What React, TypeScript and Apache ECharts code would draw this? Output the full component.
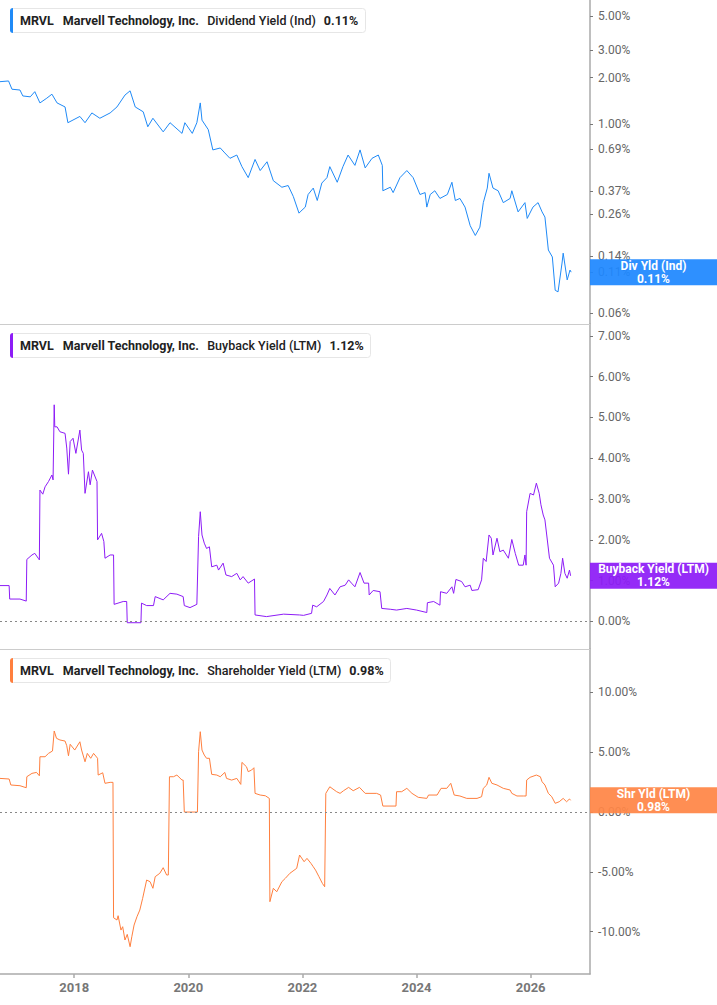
import React, { useEffect, useRef } from "react";
import * as echarts from "echarts";

// ---- Data (decimal year, percent) ----
const dividendYield: [number, number][] = [
  [2016.70, 1.88], [2016.85, 1.90], [2016.91, 1.68], [2017.05, 1.66], [2017.10, 1.52], [2017.23, 1.50],
  [2017.31, 1.62], [2017.40, 1.37], [2017.52, 1.47], [2017.61, 1.56], [2017.70, 1.37], [2017.84, 1.29],
  [2017.89, 1.02], [2018.10, 1.12], [2018.19, 1.02], [2018.31, 1.18], [2018.45, 1.09], [2018.63, 1.18],
  [2018.75, 1.29], [2018.89, 1.54], [2018.98, 1.64], [2019.07, 1.29], [2019.21, 1.20], [2019.29, 0.96],
  [2019.38, 1.09], [2019.56, 0.89], [2019.68, 1.02], [2019.89, 0.87], [2019.94, 1.02], [2020.07, 0.87],
  [2020.15, 1.02], [2020.21, 1.37], [2020.24, 1.06], [2020.35, 0.92], [2020.43, 0.68], [2020.56, 0.70],
  [2020.64, 0.65], [2020.73, 0.60], [2020.85, 0.63], [2020.94, 0.53], [2021.05, 0.45], [2021.17, 0.59],
  [2021.26, 0.50], [2021.38, 0.57], [2021.49, 0.43], [2021.64, 0.39], [2021.75, 0.40], [2021.84, 0.34],
  [2021.94, 0.265], [2021.96, 0.27], [2022.05, 0.29], [2022.10, 0.35], [2022.19, 0.385], [2022.26, 0.32],
  [2022.34, 0.415], [2022.43, 0.45], [2022.48, 0.53], [2022.61, 0.42], [2022.71, 0.53], [2022.80, 0.63],
  [2022.92, 0.54], [2023.01, 0.68], [2023.10, 0.52], [2023.22, 0.60], [2023.33, 0.63], [2023.40, 0.54],
  [2023.41, 0.37], [2023.54, 0.39], [2023.59, 0.36], [2023.71, 0.45], [2023.83, 0.50], [2023.94, 0.45],
  [2024.06, 0.35], [2024.15, 0.36], [2024.18, 0.29], [2024.24, 0.35], [2024.32, 0.37], [2024.41, 0.33],
  [2024.54, 0.35], [2024.62, 0.42], [2024.68, 0.32], [2024.76, 0.33], [2024.85, 0.29], [2024.94, 0.22],
  [2025.03, 0.19], [2025.11, 0.215], [2025.17, 0.31], [2025.24, 0.385], [2025.27, 0.48], [2025.34, 0.385],
  [2025.43, 0.37], [2025.52, 0.31], [2025.64, 0.33], [2025.67, 0.37], [2025.78, 0.27], [2025.90, 0.31],
  [2025.94, 0.245], [2026.04, 0.29], [2026.13, 0.31], [2026.20, 0.27], [2026.25, 0.25], [2026.31, 0.153],
  [2026.38, 0.138], [2026.43, 0.084], [2026.48, 0.082], [2026.55, 0.126], [2026.57, 0.146], [2026.64, 0.098],
  [2026.69, 0.1135], [2026.71, 0.11],
];

const buybackYield: [number, number][] = [
  [2016.70, 0.88], [2016.86, 0.88], [2016.87, 0.55], [2017.05, 0.55], [2017.16, 0.50], [2017.17, 1.52],
  [2017.26, 1.63], [2017.31, 1.67], [2017.37, 1.55], [2017.39, 1.51], [2017.40, 3.22], [2017.45, 3.12],
  [2017.49, 3.30], [2017.55, 3.43], [2017.61, 3.59], [2017.63, 3.47], [2017.65, 5.31], [2017.66, 4.77],
  [2017.70, 4.77], [2017.75, 4.65], [2017.84, 4.61], [2017.87, 4.25], [2017.90, 3.61], [2017.93, 4.41],
  [2017.98, 4.49], [2018.03, 4.12], [2018.10, 4.69], [2018.13, 4.20], [2018.16, 4.12], [2018.19, 3.14],
  [2018.25, 3.67], [2018.28, 3.35], [2018.32, 3.71], [2018.40, 3.43], [2018.41, 2.00], [2018.48, 2.16],
  [2018.52, 1.96], [2018.54, 1.55], [2018.63, 1.63], [2018.69, 1.63], [2018.70, 0.42], [2018.86, 0.49],
  [2018.92, 0.49], [2018.93, -0.03], [2019.17, -0.03], [2019.18, 0.45], [2019.27, 0.39], [2019.39, 0.39],
  [2019.42, 0.61], [2019.56, 0.53], [2019.68, 0.69], [2019.80, 0.67], [2019.91, 0.61], [2019.93, 0.39],
  [2020.03, 0.34], [2020.15, 0.42], [2020.18, 2.08], [2020.21, 2.69], [2020.24, 2.12], [2020.28, 1.92],
  [2020.32, 1.79], [2020.37, 1.83], [2020.41, 1.34], [2020.50, 1.38], [2020.53, 1.26], [2020.61, 1.43],
  [2020.66, 1.14], [2020.76, 1.10], [2020.85, 1.18], [2020.91, 1.02], [2020.96, 1.10], [2021.05, 0.94],
  [2021.16, 1.04], [2021.17, 0.16], [2021.37, 0.12], [2021.67, 0.18], [2021.95, 0.16], [2022.02, 0.15],
  [2022.16, 0.20], [2022.18, 0.40], [2022.25, 0.36], [2022.37, 0.49], [2022.43, 0.65], [2022.48, 0.81],
  [2022.57, 0.65], [2022.66, 0.85], [2022.75, 0.89], [2022.81, 1.02], [2022.86, 0.94], [2022.92, 0.85],
  [2023.01, 1.20], [2023.08, 0.94], [2023.16, 0.94], [2023.17, 0.65], [2023.24, 0.76], [2023.36, 0.73],
  [2023.39, 0.32], [2023.54, 0.30], [2023.65, 0.28], [2023.83, 0.32], [2024.00, 0.28], [2024.18, 0.22],
  [2024.19, 0.46], [2024.30, 0.49], [2024.41, 0.40], [2024.42, 0.73], [2024.53, 0.69], [2024.62, 0.85],
  [2024.65, 0.69], [2024.69, 1.03], [2024.79, 0.98], [2024.85, 0.85], [2024.94, 0.89], [2024.97, 0.76],
  [2025.08, 0.78], [2025.14, 1.02], [2025.17, 1.55], [2025.22, 1.47], [2025.27, 2.12], [2025.31, 2.04],
  [2025.34, 1.63], [2025.41, 2.04], [2025.46, 1.71], [2025.52, 1.75], [2025.61, 1.55], [2025.67, 2.01],
  [2025.73, 1.67], [2025.79, 1.38], [2025.87, 1.38], [2025.90, 1.63], [2025.92, 1.38], [2025.93, 2.69],
  [2025.99, 3.14], [2026.05, 3.10], [2026.10, 3.39], [2026.15, 3.14], [2026.18, 2.86], [2026.22, 2.61],
  [2026.25, 2.49], [2026.33, 1.55], [2026.40, 1.38], [2026.43, 0.85], [2026.49, 0.94], [2026.53, 1.18],
  [2026.56, 1.55], [2026.60, 1.18], [2026.64, 1.06], [2026.68, 1.26], [2026.70, 1.12],
];

const shareholderYield: [number, number][] = [
  [2016.70, 2.81], [2016.86, 2.76], [2016.89, 2.26], [2017.05, 2.20], [2017.16, 2.03], [2017.17, 2.95],
  [2017.26, 3.23], [2017.34, 3.31], [2017.39, 3.03], [2017.40, 4.62], [2017.49, 4.62], [2017.55, 4.90],
  [2017.62, 5.10], [2017.65, 6.77], [2017.69, 6.16], [2017.75, 6.02], [2017.84, 5.93], [2017.87, 5.54],
  [2017.90, 4.70], [2017.93, 5.66], [2018.01, 5.18], [2018.10, 5.87], [2018.13, 5.18], [2018.19, 4.20],
  [2018.23, 4.90], [2018.29, 4.49], [2018.34, 4.90], [2018.41, 4.49], [2018.42, 3.09], [2018.50, 3.28],
  [2018.54, 2.40], [2018.63, 2.48], [2018.68, 2.48], [2018.69, -8.83], [2018.75, -9.02], [2018.77, -8.66],
  [2018.82, -9.86], [2018.85, -9.58], [2018.89, -10.69], [2018.93, -10.22], [2018.98, -11.25], [2019.01, -10.42],
  [2019.05, -9.44], [2019.10, -8.75], [2019.15, -8.19], [2019.20, -7.21], [2019.27, -5.68], [2019.33, -5.82],
  [2019.38, -6.37], [2019.42, -5.40], [2019.50, -5.12], [2019.56, -4.65], [2019.62, -5.26], [2019.65, -5.26],
  [2019.67, 2.95], [2019.74, 2.95], [2019.80, 3.09], [2019.89, 2.67], [2019.91, 2.67], [2019.93, 0.00],
  [2020.16, 0.00], [2020.18, 5.04], [2020.21, 6.71], [2020.24, 5.18], [2020.28, 4.76], [2020.32, 4.49],
  [2020.37, 4.49], [2020.41, 3.15], [2020.50, 3.09], [2020.56, 2.95], [2020.64, 3.31], [2020.67, 2.81],
  [2020.76, 2.67], [2020.85, 2.81], [2020.92, 2.31], [2020.94, 4.15], [2021.02, 3.78], [2021.05, 3.37],
  [2021.11, 3.51], [2021.15, 3.70], [2021.17, 1.56], [2021.26, 1.42], [2021.35, 1.36], [2021.42, 1.14],
  [2021.43, -7.49], [2021.49, -6.37], [2021.55, -6.66], [2021.64, -5.82], [2021.70, -5.54], [2021.78, -5.12],
  [2021.90, -4.70], [2021.95, -3.59], [2022.03, -4.15], [2022.08, -3.87], [2022.15, -4.29], [2022.19, -4.57],
  [2022.23, -4.85], [2022.29, -5.40], [2022.35, -5.96], [2022.39, -6.24], [2022.41, 1.56], [2022.48, 2.11],
  [2022.60, 1.70], [2022.66, 1.56], [2022.72, 1.78], [2022.81, 2.06], [2022.89, 1.78], [2023.00, 2.06],
  [2023.10, 1.56], [2023.30, 1.56], [2023.37, 1.42], [2023.41, 0.50], [2023.64, 0.50], [2023.65, 1.70],
  [2023.74, 1.70], [2023.83, 1.98], [2023.92, 1.56], [2024.03, 1.23], [2024.18, 1.14], [2024.21, 1.42],
  [2024.36, 1.42], [2024.43, 1.98], [2024.53, 1.98], [2024.60, 2.40], [2024.66, 1.42], [2024.76, 1.34],
  [2024.88, 1.14], [2025.06, 1.14], [2025.14, 1.28], [2025.17, 1.98], [2025.23, 2.26], [2025.27, 2.90],
  [2025.32, 2.40], [2025.41, 2.26], [2025.52, 1.98], [2025.64, 1.84], [2025.67, 1.56], [2025.76, 1.34],
  [2025.87, 1.34], [2025.92, 1.34], [2025.93, 2.67], [2025.99, 2.90], [2026.10, 3.09], [2026.17, 2.95],
  [2026.20, 2.53], [2026.25, 2.26], [2026.31, 1.56], [2026.37, 1.28], [2026.43, 0.73], [2026.50, 0.86],
  [2026.57, 1.14], [2026.63, 0.86], [2026.68, 1.09], [2026.70, 0.98],
];

const yearTicks = [2018, 2020, 2022, 2024, 2026];
const dividendTicks = [5, 3, 2, 1, 0.69, 0.37, 0.26, 0.14, 0.11, 0.06];
const buybackTicks = [0, 1, 2, 3, 4, 5, 6, 7];
const shareholderTicks = [-10, -5, 0, 5, 10];

const COLOR_DIV = "#1f8af7";
const COLOR_BUY = "#8d1cf6";
const COLOR_SHR = "#ff7f3e";
const BADGE_DIV = "rgba(30,136,255,0.93)";
const BADGE_BUY = "rgba(141,28,246,0.93)";
const BADGE_SHR = "rgba(255,133,70,0.93)";

const FONT = "Roboto, 'Noto Sans', sans-serif";

const pct = (v: number) => v.toFixed(2) + "%";
const last = (s: [number, number][]) => s[s.length - 1][1];

function legendTitle(top: number, color: string, metric: string, value: string) {
  const base = { fontFamily: FONT, fontSize: 12.5, color: "#222", lineHeight: 25 };
  return {
    left: 10,
    top,
    text: `{bar| }{b|MRVL}{c|Marvell Technology, Inc.}{n|${metric}}{v|${value}}`,
    backgroundColor: "#fff",
    borderColor: "#e6e6e6",
    borderWidth: 1,
    borderRadius: 3,
    padding: [0, 7, 0, 0],
    textStyle: {
      rich: {
        bar: { width: 3, height: 25, lineHeight: 25, backgroundColor: color, borderRadius: [3, 0, 0, 3] },
        b: { ...base, fontWeight: "bold", padding: [0, 0, 0, 7] },
        c: { ...base, fontWeight: "bold", padding: [0, 0, 0, 9] },
        n: { ...base, fontWeight: 500, padding: [0, 0, 0, 8] },
        v: { ...base, fontWeight: "bold", padding: [0, 0, 0, 8] },
      },
    },
  };
}

function badge(value: number, color: string, name: string) {
  return {
    yAxis: value,
    lineStyle: { color: "rgba(0,0,0,0)", width: 1 },
    label: {
      show: true,
      position: "end",
      distance: 0,
      formatter: `{t|${name}}\n{t|${pct(value)}}`,
      backgroundColor: color,
      padding: 0,
      rich: {
        t: { width: 127, align: "center", color: "#fff", fontWeight: "bold", fontSize: 12, fontFamily: FONT, lineHeight: 13 },
      },
    },
  };
}

const zeroLine = {
  yAxis: 0,
  lineStyle: { type: [2, 3], color: "#888", width: 1 },
  label: { show: false },
};

function yAxisBase(gridIndex: number, ticks: number[]) {
  return {
    gridIndex,
    position: "right",
    axisLine: { show: true, onZero: false, lineStyle: { color: "#aaa", width: 1.5 } },
    axisTick: { show: true, length: 3, customValues: ticks, lineStyle: { color: "#777", width: 1 } },
    axisLabel: { customValues: ticks, formatter: (v: number) => pct(v), color: "#666", fontSize: 12, fontFamily: FONT, margin: 8 },
    splitLine: { show: false },
  };
}

function xAxisBase(gridIndex: number, showLabels: boolean) {
  return {
    type: "value",
    gridIndex,
    min: 2016.7,
    max: 2027.04,
    axisLine: { show: true, onZero: false, lineStyle: showLabels ? { color: "#aaa", width: 1.5 } : { color: "#ccc", width: 1 } },
    axisTick: { show: showLabels, length: 4, customValues: yearTicks, lineStyle: { color: "#aaa", width: 1.5 } },
    axisLabel: {
      show: showLabels,
      customValues: yearTicks,
      formatter: (v: number) => String(Math.round(v)),
      color: "#777",
      fontWeight: "bold",
      fontSize: 13,
      fontFamily: FONT,
      margin: 7,
    },
    splitLine: { show: false },
  };
}

export default function App() {
  const ref = useRef<HTMLDivElement>(null);

  useEffect(() => {
    if (!ref.current) return;
    const chart = echarts.init(ref.current, undefined, { renderer: "svg" });
    const option: any = {
      animation: false,
      backgroundColor: "#fff",
      title: [
        legendTitle(8, COLOR_DIV, "Dividend Yield (Ind)", pct(last(dividendYield))),
        legendTitle(333, COLOR_BUY, "Buyback Yield (LTM)", pct(last(buybackYield))),
        legendTitle(658, COLOR_SHR, "Shareholder Yield (LTM)", pct(last(shareholderYield))),
      ],
      grid: [
        { left: 0, top: 0, width: 590, height: 324, outerBoundsMode: "none" },
        { left: 0, top: 324, width: 590, height: 325, outerBoundsMode: "none" },
        { left: 0, top: 649, width: 590, height: 325, outerBoundsMode: "none" },
      ],
      xAxis: [xAxisBase(0, false), xAxisBase(1, false), xAxisBase(2, true)],
      yAxis: [
        { ...yAxisBase(0, dividendTicks), type: "log", logBase: 10, min: 0.0508, max: 6.35 },
        { ...yAxisBase(1, buybackTicks), type: "value", min: -0.674, max: 7.29 },
        { ...yAxisBase(2, shareholderTicks), type: "value", min: -13.53, max: 13.62 },
      ],
      series: [
        {
          type: "line",
          xAxisIndex: 0,
          yAxisIndex: 0,
          data: dividendYield,
          showSymbol: false,
          lineStyle: { color: COLOR_DIV, width: 1 },
          itemStyle: { color: COLOR_DIV },
          markLine: {
            silent: true,
            symbol: ["none", "none"],
            data: [badge(last(dividendYield), BADGE_DIV, "Div Yld (Ind)")],
          },
        },
        {
          type: "line",
          xAxisIndex: 1,
          yAxisIndex: 1,
          data: buybackYield,
          showSymbol: false,
          lineStyle: { color: COLOR_BUY, width: 1 },
          itemStyle: { color: COLOR_BUY },
          markLine: {
            silent: true,
            symbol: ["none", "none"],
            data: [zeroLine, badge(last(buybackYield), BADGE_BUY, "Buyback Yield (LTM)")],
          },
        },
        {
          type: "line",
          xAxisIndex: 2,
          yAxisIndex: 2,
          data: shareholderYield,
          showSymbol: false,
          lineStyle: { color: COLOR_SHR, width: 1 },
          itemStyle: { color: COLOR_SHR },
          markLine: {
            silent: true,
            symbol: ["none", "none"],
            data: [zeroLine, badge(last(shareholderYield), BADGE_SHR, "Shr Yld (LTM)")],
          },
        },
      ],
    };
    chart.setOption(option);
    return () => chart.dispose();
  }, []);

  return (
    <div
      ref={ref}
      style={{ position: "fixed", left: 0, top: 0, width: 717, height: 1005, background: "#fff" }}
    />
  );
}
